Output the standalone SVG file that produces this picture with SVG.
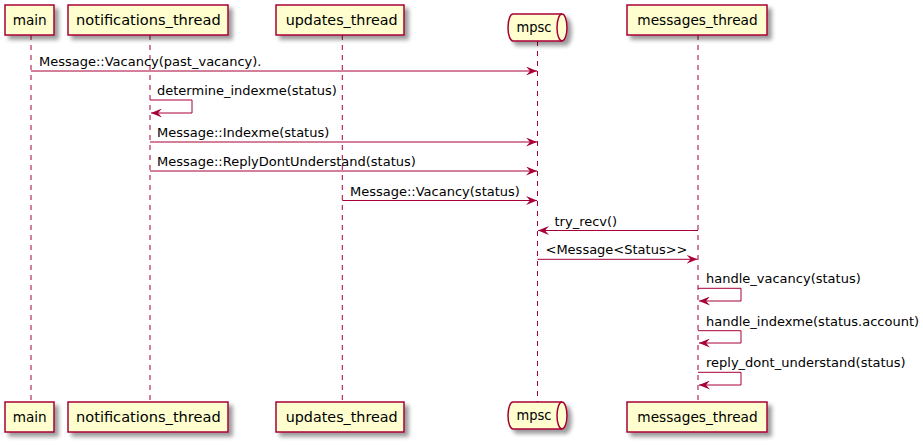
<svg xmlns="http://www.w3.org/2000/svg" width="923" height="445" viewBox="0 0 923 445">
  <style>
    .box { fill: #FEFECE; stroke: #A80036; stroke-width: 1.5; filter: url(#shadow); }
    .pname { font-family: "DejaVu Sans", sans-serif; font-size: 14px; fill: #000000; }
    .life { stroke: #A80036; stroke-width: 1; stroke-dasharray: 5,5; fill: none; }
    .msg { stroke: #A80036; stroke-width: 1; fill: none; marker-end: url(#head); }
    .label { font-family: "DejaVu Sans", sans-serif; font-size: 13px; fill: #000000; }
  </style>
  <defs>
    <filter id="shadow" x="-20%" y="-20%" width="150%" height="160%">
      <feGaussianBlur in="SourceAlpha" stdDeviation="2"/>
      <feOffset dx="4" dy="4" result="off"/>
      <feComponentTransfer>
        <feFuncA type="linear" slope="0.4"/>
      </feComponentTransfer>
      <feMerge>
        <feMergeNode/>
        <feMergeNode in="SourceGraphic"/>
      </feMerge>
    </filter>
    <marker id="head" viewBox="0 0 11 9" refX="11" refY="4.5" markerWidth="11" markerHeight="9" markerUnits="userSpaceOnUse" orient="auto">
      <path d="M0,0 L11,4.5 L0,9 L4,4.5 Z" fill="#A80036"/>
    </marker>
  </defs>
  <rect width="923" height="445" fill="#FFFFFF"/>

  <!-- lifelines -->
  <g id="lifelines">
    <line class="life" x1="31" y1="35" x2="31" y2="402"/>
    <line class="life" x1="150" y1="35" x2="150" y2="402"/>
    <line class="life" x1="342.3" y1="35" x2="342.3" y2="402"/>
    <line class="life" x1="537.5" y1="41" x2="537.5" y2="402"/>
    <line class="life" x1="698" y1="35" x2="698" y2="402"/>
  </g>

  <!-- participants (head and foot) -->
  <g id="main">
    <rect class="box" x="5" y="5" width="49" height="30"/>
    <text class="pname" x="12.7" y="24.5" textLength="34" lengthAdjust="spacingAndGlyphs">main</text>
    <rect class="box" x="5" y="402" width="49" height="30"/>
    <text class="pname" x="12.7" y="421.5" textLength="34" lengthAdjust="spacingAndGlyphs">main</text>
  </g>
  <g id="notifications_thread">
    <rect class="box" x="68" y="5" width="160" height="30"/>
    <text class="pname" x="76" y="24.5" textLength="144.7" lengthAdjust="spacingAndGlyphs">notifications_thread</text>
    <rect class="box" x="68" y="402" width="160" height="30"/>
    <text class="pname" x="76" y="421.5" textLength="144.7" lengthAdjust="spacingAndGlyphs">notifications_thread</text>
  </g>
  <g id="updates_thread">
    <rect class="box" x="276" y="5" width="128" height="30"/>
    <text class="pname" x="285.7" y="24.5" textLength="112" lengthAdjust="spacingAndGlyphs">updates_thread</text>
    <rect class="box" x="276" y="402" width="128" height="30"/>
    <text class="pname" x="285.7" y="421.5" textLength="112" lengthAdjust="spacingAndGlyphs">updates_thread</text>
  </g>
  <g id="mpsc">
    <path class="box" d="M513,14 H562 A5,13.5 0 0 1 562,41 H513 A5,13.5 0 0 1 513,14 Z"/>
    <path d="M562,14 A5,13.5 0 0 0 562,41" fill="none" stroke="#A80036" stroke-width="1.5"/>
    <text class="pname" x="516.5" y="32" textLength="35" lengthAdjust="spacingAndGlyphs">mpsc</text>
    <path class="box" d="M513,402 H562 A5,13.5 0 0 1 562,429 H513 A5,13.5 0 0 1 513,402 Z"/>
    <path d="M562,402 A5,13.5 0 0 0 562,429" fill="none" stroke="#A80036" stroke-width="1.5"/>
    <text class="pname" x="516.5" y="420" textLength="35" lengthAdjust="spacingAndGlyphs">mpsc</text>
  </g>
  <g id="messages_thread">
    <rect class="box" x="627" y="5" width="140" height="30"/>
    <text class="pname" x="637.3" y="24.5" textLength="120.4" lengthAdjust="spacingAndGlyphs">messages_thread</text>
    <rect class="box" x="627" y="402" width="140" height="30"/>
    <text class="pname" x="637.3" y="421.5" textLength="120.4" lengthAdjust="spacingAndGlyphs">messages_thread</text>
  </g>

  <!-- messages -->
  <g id="connectors">
    <line class="msg" x1="31" y1="71" x2="537" y2="71"/>
    <text class="label" x="39" y="66">Message::Vacancy(past_vacancy).</text>

    <polyline class="msg" points="150,100 192,100 192,113 151,113"/>
    <text class="label" x="157" y="95">determine_indexme(status)</text>

    <line class="msg" x1="150" y1="142" x2="537" y2="142"/>
    <text class="label" x="157" y="137">Message::Indexme(status)</text>

    <line class="msg" x1="150" y1="171" x2="537" y2="171"/>
    <text class="label" x="157" y="166">Message::ReplyDontUnderstand(status)</text>

    <line class="msg" x1="342.3" y1="200.5" x2="537" y2="200.5"/>
    <text class="label" x="350" y="195.5">Message::Vacancy(status)</text>

    <line class="msg" x1="698" y1="230.5" x2="538" y2="230.5"/>
    <text class="label" x="554.5" y="225.5">try_recv()</text>

    <line class="msg" x1="537.5" y1="259.3" x2="697.5" y2="259.3"/>
    <text class="label" x="545.5" y="254.3">&lt;Message&lt;Status&gt;&gt;</text>

    <polyline class="msg" points="698,288.3 741,288.3 741,301 699,301"/>
    <text class="label" x="706" y="283.3">handle_vacancy(status)</text>

    <polyline class="msg" points="698,330.7 741,330.7 741,343 699,343"/>
    <text class="label" x="706" y="325.7">handle_indexme(status.account)</text>

    <polyline class="msg" points="698,372.3 741,372.3 741,385 699,385"/>
    <text class="label" x="706" y="367.3">reply_dont_understand(status)</text>
  </g>
</svg>
